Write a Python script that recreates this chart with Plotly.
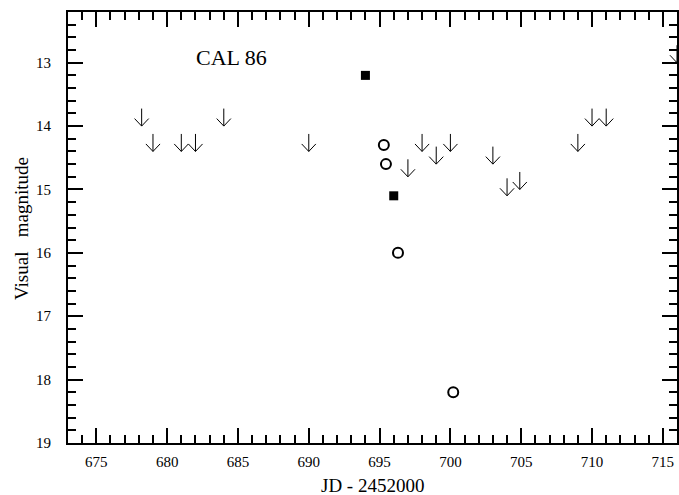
import plotly.graph_objects as go

# Upper limits (arrows): JD - 2452000, visual magnitude
lim_jd = [678.2, 679.0, 681.0, 682.0, 684.0, 690.0, 697.0, 698.0, 699.0, 700.0,
          703.0, 704.0, 704.9, 709.0, 710.0, 711.0, 716.0]
lim_mag = [14.0, 14.4, 14.4, 14.4, 14.0, 14.4, 14.8, 14.4, 14.6, 14.4,
           14.6, 15.1, 15.0, 14.4, 14.0, 14.0, 13.0]

# Filled squares
sq_jd = [694.0, 696.0]
sq_mag = [13.2, 15.1]

# Open circles
ci_jd = [695.3, 695.45, 696.3, 700.2]
ci_mag = [14.3, 14.6, 16.0, 18.2]

x_ticks = [675, 680, 685, 690, 695, 700, 705, 710, 715]
y_ticks = [13, 14, 15, 16, 17, 18, 19]

serif = "Liberation Serif, Times New Roman, serif"

W, H = 679, 495
ML, MR, MT, MB = 68, 2, 12, 52
pw, ph = W - ML - MR, H - MT - MB


def px_to_paper(px, py):
    return (px - ML) / pw, 1 - (py - MT) / ph


fig = go.Figure()
fig.add_trace(go.Scatter(
    x=sq_jd, y=sq_mag, mode="markers",
    marker=dict(symbol="square", size=9, color="black", line=dict(width=0)),
    showlegend=False, cliponaxis=False))
fig.add_trace(go.Scatter(
    x=ci_jd, y=ci_mag, mode="markers",
    marker=dict(symbol="circle-open", size=10, color="black", line=dict(width=2)),
    showlegend=False, cliponaxis=False))

annotations = []
for xv, yv in zip(lim_jd, lim_mag):
    for ax, ay in [(0, -19), (-8.5, -9), (8.5, -9)]:
        annotations.append(dict(
            x=xv, y=yv, xref="x", yref="y", text="", showarrow=True,
            ax=ax, ay=ay, arrowhead=0, arrowwidth=1, arrowcolor="black",
            standoff=0, startstandoff=0))

cx, cy = px_to_paper(231, 57)
annotations.append(dict(
    x=cx, y=cy, xref="paper", yref="paper", text="CAL 86", showarrow=False,
    xanchor="center", yanchor="middle",
    font=dict(family=serif, size=22, color="black")))

tx, ty = px_to_paper(372, 485)
annotations.append(dict(
    x=tx, y=ty, xref="paper", yref="paper", text="JD - 2452000", showarrow=False,
    xanchor="center", yanchor="middle",
    font=dict(family=serif, size=19, color="black")))

vx, vy = px_to_paper(21, 229)
annotations.append(dict(
    x=vx, y=vy, xref="paper", yref="paper", text="Visual\u00a0\u00a0\u00a0magnitude",
    showarrow=False, textangle=-90, xanchor="center", yanchor="middle",
    font=dict(family=serif, size=19, color="black")))

fig.update_layout(
    width=W, height=H,
    margin=dict(l=ML, r=MR, t=MT, b=MB, autoexpand=False),
    paper_bgcolor="white", plot_bgcolor="white",
    font=dict(family=serif, color="black", size=15),
    annotations=annotations,
)

fig.update_xaxes(
    range=[673, 716], tickmode="array", tickvals=x_ticks,
    ticktext=[str(v) for v in x_ticks],
    ticks="inside", ticklen=15, tickwidth=2, tickcolor="black",
    minor=dict(dtick=1, tick0=675, ticks="inside", ticklen=8, tickwidth=2, tickcolor="black"),
    showline=True, linewidth=2, linecolor="black", mirror="ticks",
    showgrid=False, zeroline=False, automargin=False,
    tickfont=dict(family=serif, size=15), ticklabelstandoff=4,
)
fig.update_yaxes(
    range=[19, 12.2], tickmode="array", tickvals=y_ticks,
    ticktext=[str(v) for v in y_ticks],
    ticks="inside", ticklen=15, tickwidth=2, tickcolor="black",
    minor=dict(dtick=0.2, tick0=13, ticks="inside", ticklen=8, tickwidth=2, tickcolor="black"),
    showline=True, linewidth=2, linecolor="black", mirror="ticks",
    showgrid=False, zeroline=False, automargin=False,
    tickfont=dict(family=serif, size=15), ticklabelstandoff=12,
)

fig.write_html(
    "out.html",
    config={"displayModeBar": False},
    post_script="document.body.style.margin='0';document.body.style.overflow='hidden';",
)
